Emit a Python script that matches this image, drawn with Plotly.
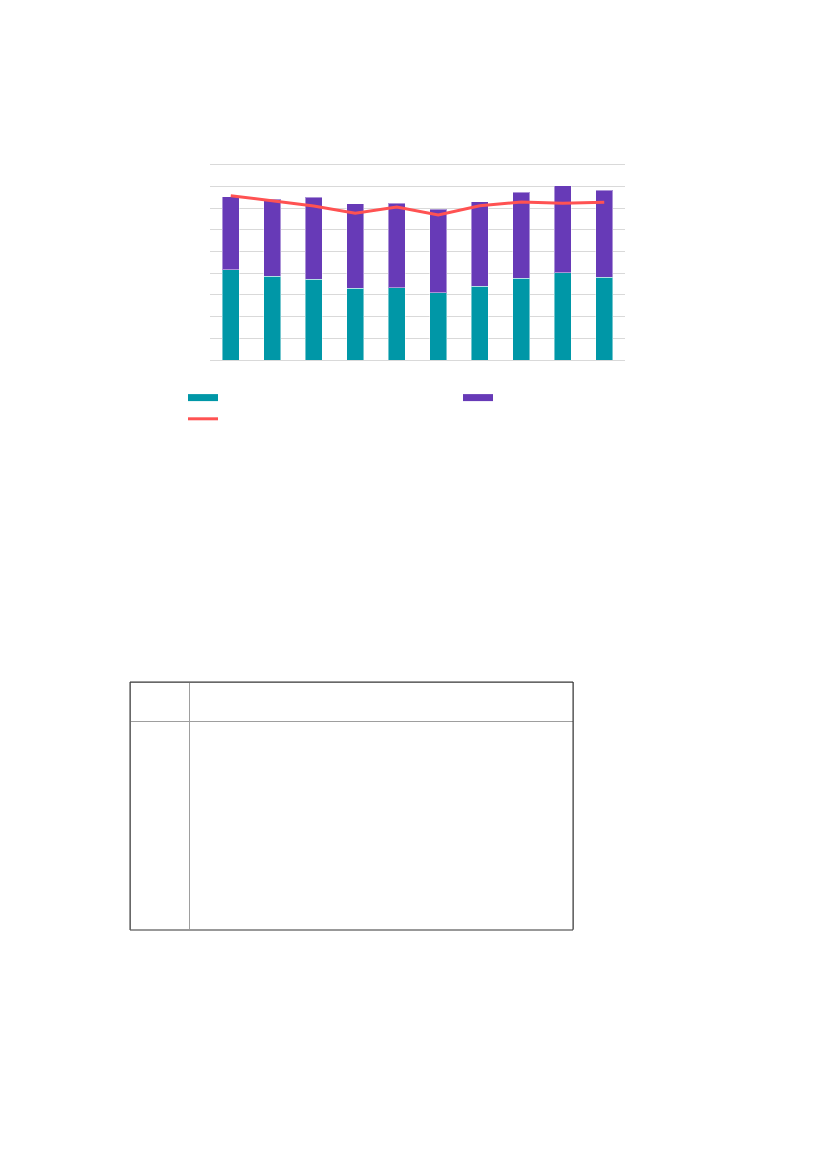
import plotly.graph_objects as go

# values (no visible text labels in it)
categories = ["1", "2", "3", "4", "5", "6", "7", "8", "9", "10"]
teal_vals = [41.5, 38.7, 37.3, 33.0, 33.3, 30.9, 33.9, 37.6, 40.1, 38.1]
purple_vals = [33.8, 35.3, 37.8, 38.9, 38.9, 38.5, 39.1, 39.8, 40.2, 40.1]
line_vals = [75.7, 73.3, 71.0, 67.6, 70.5, 66.8, 71.1, 72.8, 72.2, 72.7]

TEAL = "#0097A7"
PURPLE = "#673AB7"
RED = "#FF5252"
edge = dict(color="rgba(255,255,255,0.45)", width=1)

W, H = 827, 1169
OFF = 8  # page body margin

def px(x):
    return (x - OFF) / W

def py(y):
    return 1 - (y - OFF) / H

fig = go.Figure()
fig.add_trace(go.Bar(x=categories, y=teal_vals, marker=dict(color=TEAL, line=edge),
                     showlegend=False))
fig.add_trace(go.Bar(x=categories, y=purple_vals, marker=dict(color=PURPLE, line=edge),
                     showlegend=False))
fig.add_trace(go.Scatter(x=categories, y=line_vals, mode="lines", name=" ",
                         line=dict(color=RED, width=3), legendrank=3))

# legend-only entries so the swatches are flat bars like the reference
fig.add_trace(go.Scatter(x=[None], y=[None], mode="lines", name=" ",
                         line=dict(color=TEAL, width=7), legendrank=1))
fig.add_trace(go.Scatter(x=[None], y=[None], mode="lines", name=" ", legend="legend2",
                         line=dict(color=PURPLE, width=7)))

# empty table below the chart
fig.add_trace(go.Table(
    domain=dict(x=[px(130), px(573)], y=[py(930), py(682)]),
    columnwidth=[59, 384],
    header=dict(values=["", ""], height=39, fill_color="white",
                line=dict(color="#9e9e9e", width=1)),
    cells=dict(values=[[""], [""]], height=209, fill_color="white",
               line=dict(color="#9e9e9e", width=1)),
))

fig.update_layout(
    width=W, height=H,
    margin=dict(l=0, r=0, t=0, b=0),
    paper_bgcolor="white", plot_bgcolor="white",
    barmode="stack", bargap=0.6,
    font=dict(family="Roboto", size=12, color="#444"),
    xaxis=dict(domain=[px(210), px(625)], showgrid=False, showticklabels=False,
               showline=False, ticks=""),
    yaxis=dict(domain=[py(360), py(360 - 195.3 * 91 / 90)], range=[0, 91], tick0=0,
               dtick=10, showgrid=True, gridcolor="#d9d9d9", gridwidth=1,
               showticklabels=False, zeroline=True, zerolinecolor="#d9d9d9",
               zerolinewidth=1, ticks=""),
    legend=dict(x=px(183), y=py(382), xanchor="left", yanchor="top",
                traceorder="normal", font=dict(size=14)),
    legend2=dict(x=px(458), y=py(382), xanchor="left", yanchor="top",
                 font=dict(size=14)),
    shapes=[dict(type="rect", xref="paper", yref="paper",
                 x0=px(130), x1=px(573), y0=py(930), y1=py(682),
                 line=dict(color="#333", width=1))],
)

fig.write_html("out.html")
